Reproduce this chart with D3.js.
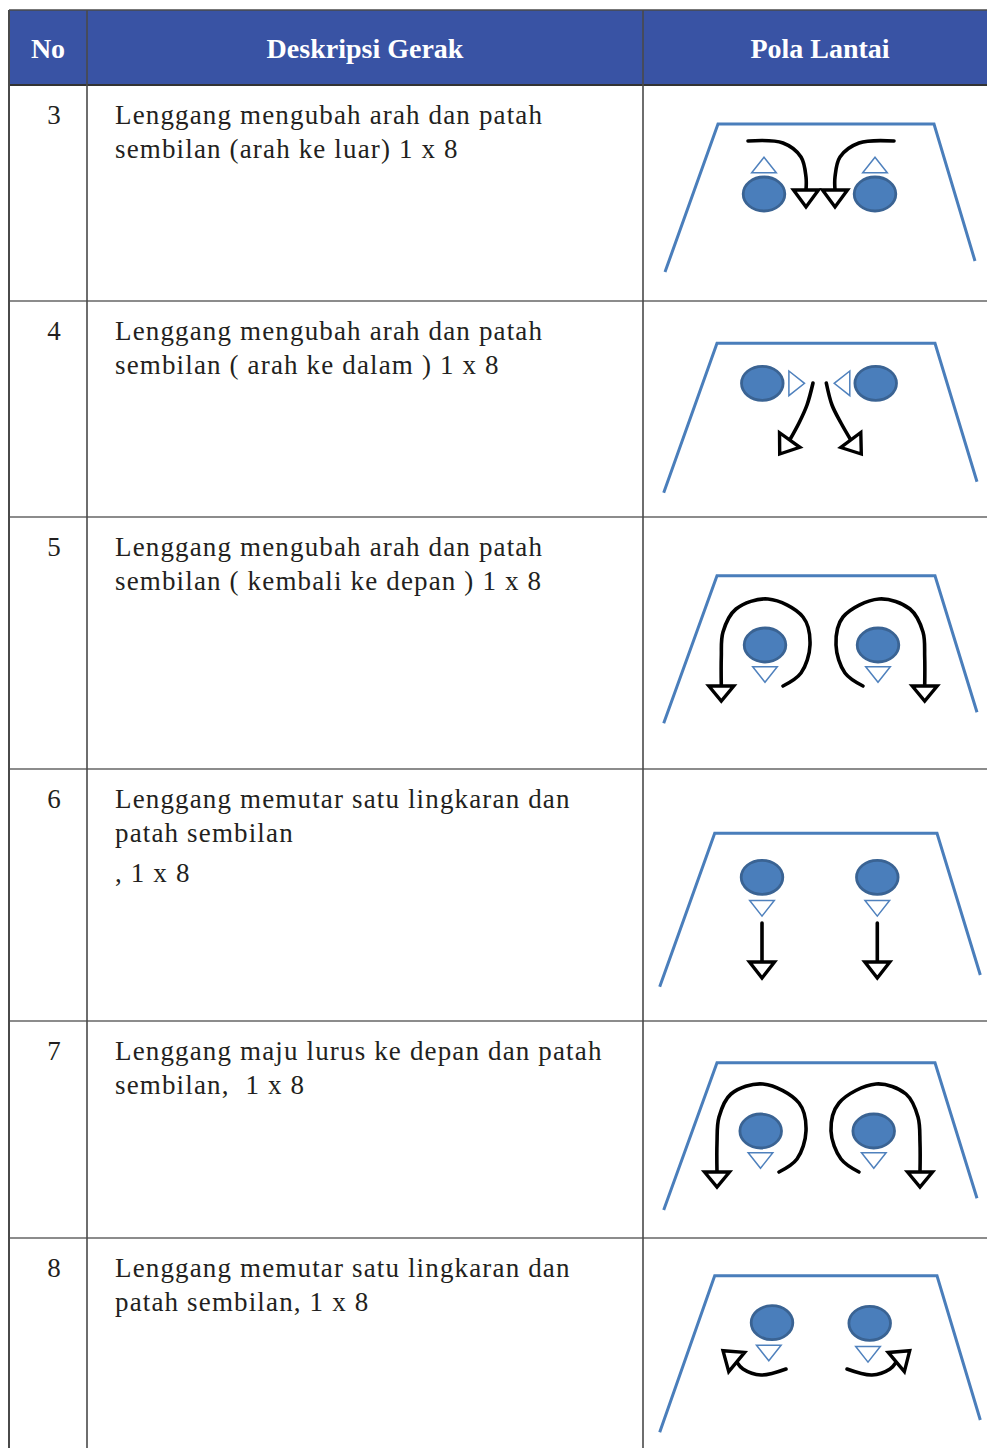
<!DOCTYPE html>
<html>
<head>
<meta charset="utf-8">
<script src="https://cdn.jsdelivr.net/npm/d3@7"></script>
<style>
  html, body { margin: 0; padding: 0; background: #fff; }
  svg { display: block; }
  text { white-space: pre; font-family: "Liberation Serif", "Times New Roman", serif; }
</style>
</head>
<body>
<div id="chart"></div>
<script>
// ---------------- DATA ----------------
const headers = ["No", "Deskripsi Gerak", "Pola Lantai"];
const rowNumbers = ["3", "4", "5", "6", "7", "8"];
const descriptions = [
  [["Lenggang mengubah arah dan patah", "sembilan (arah ke luar) 1 x 8"]],
  [["Lenggang mengubah arah dan patah", "sembilan ( arah ke dalam ) 1 x 8"]],
  [["Lenggang mengubah arah dan patah", "sembilan ( kembali ke depan ) 1 x 8"]],
  [["Lenggang memutar satu lingkaran dan", "patah sembilan"], [", 1 x 8"]],
  [["Lenggang maju lurus ke depan dan patah", "sembilan,  1 x 8"]],
  [["Lenggang memutar satu lingkaran dan", "patah sembilan, 1 x 8"]]
];
// floor pattern (pola lantai), in cell-relative units
const stages = [
  [[22,187],[75,39],[291,39],[332,176]],
  [[20.7,191.7],[74,42.3],[292,42.3],[334,180.7]],
  [[20.7,206.3],[74,58.7],[292,58.7],[334,195.3]],
  [[16.7,217.7],[71.7,64.3],[294,64.3],[337.3,206]],
  [[20.7,189],[74,41.7],[292,41.7],[334,177.3]],
  [[16.7,194.3],[71.7,37.7],[294,37.7],[337.3,182]]
];
const dancers = [
  [[121,109],[232,109]],
  [[119.3,82.3],[232.7,82.3]],
  [[122,128],[235,128]],
  [[119,108.3],[234.3,108.3]],
  [[117.7,110],[230.7,110]],
  [[129,84.7],[226.7,85.3]]
];
const facing = [
  [{at:[121,80],dir:"up"},{at:[232,80],dir:"up"}],
  [{at:[153.7,82.3],dir:"right"},{at:[199,82.3],dir:"left"}],
  [{at:[122,157.5],dir:"down"},{at:[235,157.5],dir:"down"}],
  [{at:[119,139.3],dir:"down"},{at:[234.3,139.3],dir:"down"}],
  [{at:[117.5,139.5],dir:"down"},{at:[230.8,139.5],dir:"down"}],
  [{at:[125.8,115],dir:"down"},{at:[225,116.3],dir:"down"}]
];
const movePaths = [
  [[[105,56],[140,58],[158,72],[163,92],[163,105]],
   [[251,56],[216,58],[197,72],[192,92],[192,105]]],
  [[[170,82],[164,104],[156,122],[146.7,139]],
   [[183.3,82],[189,104],[198,122],[207.8,139]]],
  [[[140,169],[158,156],[167,128],[160,100],[125,82],[93,92],[80,115],[78.3,140],[78.3,169]],
   [[220,169],[202,156],[193,128],[200,100],[236,82],[267,92],[280,115],[281.7,140],[281.7,169]]],
  [[[119,154],[119,193]],
   [[234.3,154],[234.3,193]]],
  [[[136,151],[154,138],[163,110],[156,82],[120,63],[88,73],[76,96],[74,122],[74,151]],
   [[216,151],[198,138],[188,110],[196,82],[233,63],[263,73],[275,96],[277,122],[277,151]]],
  [[[143,131],[118,137],[100,131],[93.7,124]],
   [[204,131],[229,137],[247,131],[253.3,124]]]
];
const moveTips = [
  [[163,122],[192,122]],
  [[136.7,153],[218.3,153]],
  [[78.3,184],[281.7,184]],
  [[119,209],[234.3,209]],
  [[74,166],[277,166]],
  [[80,112.7],[266.7,112.7]]
];

// ---------------- LAYOUT ----------------
const W = 987, H = 1448;
const colX = [9, 87, 643, 987];
const headTop = 10, headBottom = 85;
const rowTops = [85, 301, 517, 769, 1021, 1238, 1448];

const svg = d3.select("#chart").append("svg")
  .attr("width", W).attr("height", H);

const lineColor = "#4a4a4a";
const blue = "#3953a4";
const stageBlue = "#4a7ebb";

// header
svg.append("rect").attr("x", colX[0]).attr("y", headTop)
  .attr("width", W - colX[0]).attr("height", headBottom - headTop)
  .attr("fill", blue);

const headCenters = [48, 365, 820];
svg.selectAll("text.head").data(headers).join("text")
  .attr("class", "head")
  .attr("x", (d, i) => headCenters[i]).attr("y", 58)
  .attr("text-anchor", "middle")
  .style("font-weight", "bold").style("font-size", "28px")
  .attr("fill", "#fff").text(d => d);

// body rows text
rowNumbers.forEach((n, i) => {
  const top = rowTops[i];
  svg.append("text").attr("x", 54).attr("y", top + 38.5)
    .attr("text-anchor", "middle")
    .style("font-size", "27px")
    .attr("fill", "#231f20").text(n);
  let y = top + 38.5;
  descriptions[i].forEach((para, pi) => {
    if (pi > 0) y += 6;
    para.forEach(line => {
      svg.append("text").attr("x", 115).attr("y", y)
        .style("font-size", "27px")
        .style("letter-spacing", "1.15px")
        .attr("fill", "#231f20").text(line);
      y += 34;
    });
  });
});

// grid lines
const g = svg.append("g").attr("stroke", lineColor).attr("stroke-width", 1.6);
g.append("line").attr("x1", colX[0]).attr("x2", W).attr("y1", headTop).attr("y2", headTop);
rowTops.slice(0, -1).forEach(y => {
  g.append("line").attr("x1", colX[0]).attr("x2", W).attr("y1", y).attr("y2", y)
    .attr("stroke", y === headBottom ? "#333" : "#666").attr("stroke-width", y === headBottom ? 1.8 : 1.3);
});
colX.slice(0, 3).forEach(x => {
  g.append("line").attr("x1", x).attr("x2", x).attr("y1", headTop).attr("y2", H)
    .attr("stroke-width", x === colX[0] ? 2 : 1.6);
});

// diagrams
const xs = d3.scaleLinear().domain([0, 344]).range([colX[2], colX[2] + 344]);
facing.forEach((_, i) => {
  const ys = d3.scaleLinear().domain([0, 100]).range([rowTops[i], rowTops[i] + 100]);
  const cell = svg.append("g");
  const line = d3.line().x(d => xs(d[0])).y(d => ys(d[1]));

  // stage trapezoid
  cell.append("path").attr("d", line(stages[i]))
    .attr("fill", "none").attr("stroke", stageBlue).attr("stroke-width", 3);

  // movement paths
  const curve = d3.line().x(d => xs(d[0])).y(d => ys(d[1])).curve(d3.curveCatmullRom.alpha(0.5));
  movePaths[i].forEach((pts, k) => {
    cell.append("path").attr("d", curve(pts))
      .attr("fill", "none").attr("stroke", "#000").attr("stroke-width", 3.6)
      .attr("stroke-linecap", "round");
    // arrowhead
    const end = pts[pts.length - 1];
    const tip = moveTips[i][k];
    const ex = xs(end[0]), ey = ys(end[1]), tx = xs(tip[0]), ty = ys(tip[1]);
    const dx = tx - ex, dy = ty - ey, len = Math.hypot(dx, dy);
    const nx = -dy / len, ny = dx / len, hw = 12.5;
    const tri = [[ex + nx * hw, ey + ny * hw], [tx, ty], [ex - nx * hw, ey - ny * hw]];
    cell.append("path").attr("d", "M" + tri.map(p => p.join(",")).join("L") + "Z")
      .attr("fill", "#fff").attr("stroke", "#000").attr("stroke-width", 3.4)
      .attr("stroke-linejoin", "miter");
  });

  // dancers
  cell.selectAll("ellipse").data(dancers[i]).join("ellipse")
    .attr("cx", d => xs(d[0])).attr("cy", d => ys(d[1]))
    .attr("rx", 20.8).attr("ry", 17)
    .attr("fill", "#4a7ebb").attr("stroke", "#3a6393").attr("stroke-width", 2.8);

  // facing triangles
  facing[i].forEach(f => {
    const cx = xs(f.at[0]), cy = ys(f.at[1]);
    const hw = 12.3, hh = 7.8;
    let pts;
    if (f.dir === "up") pts = [[cx - hw, cy + hh], [cx, cy - hh], [cx + hw, cy + hh]];
    else if (f.dir === "down") pts = [[cx - hw, cy - hh], [cx, cy + hh], [cx + hw, cy - hh]];
    else if (f.dir === "right") pts = [[cx - hh, cy - hw], [cx + hh, cy], [cx - hh, cy + hw]];
    else pts = [[cx + hh, cy - hw], [cx - hh, cy], [cx + hh, cy + hw]];
    cell.append("path").attr("d", "M" + pts.map(p => p.join(",")).join("L") + "Z")
      .attr("fill", "#fff").attr("stroke", "#4f81bd").attr("stroke-width", 1.5);
  });
});
</script>
</body>
</html>
